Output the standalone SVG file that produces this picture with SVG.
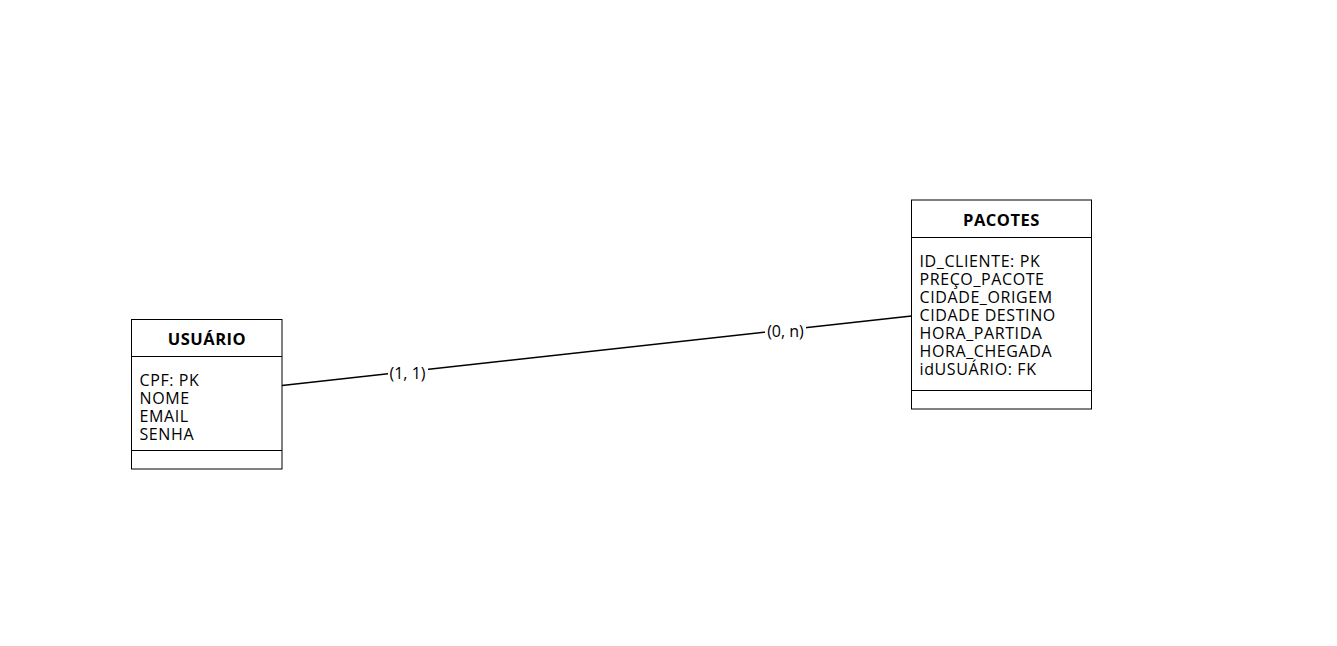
<svg xmlns="http://www.w3.org/2000/svg" width="1337" height="646" viewBox="0 0 1337 646">
<style>
.box{fill:#fff;stroke:#000;stroke-width:1}
.hd{font-family:"Open Sans","Noto Sans",sans-serif;font-size:16.5px;font-weight:bold;text-anchor:middle;fill:#000;letter-spacing:0.5px}
.at{font-family:"Open Sans","Noto Sans",sans-serif;font-size:16px;fill:#000;letter-spacing:0.6px}
.lbl{font-family:"Open Sans","Noto Sans",sans-serif;font-size:16px;fill:#000;text-anchor:middle}
</style>
<rect width="1337" height="646" fill="#fff"/>
<g id="connectors">
<line x1="282" y1="385.5" x2="911.5" y2="316" stroke="#000" stroke-width="1.5"/>
<rect x="388" y="363" width="40" height="20" fill="#fff"/>
<text class="lbl" x="407.5" y="379">(1, 1)</text>
<rect x="765" y="321" width="41" height="20" fill="#fff"/>
<text class="lbl" x="785.5" y="337">(0, n)</text>
</g>
<g id="usuario">
<rect class="box" x="131.5" y="319.5" width="150.5" height="149.5"/>
<line x1="131.5" y1="356.5" x2="282" y2="356.5" stroke="#000"/>
<line x1="131.5" y1="450.5" x2="282" y2="450.5" stroke="#000"/>
<text class="hd" x="207" y="345">USUÁRIO</text>
<text class="at" x="139.5" y="386">CPF: PK</text>
<text class="at" x="139.5" y="404">NOME</text>
<text class="at" x="139.5" y="422">EMAIL</text>
<text class="at" x="139.5" y="440">SENHA</text>
</g>
<g id="pacotes">
<rect class="box" x="911.5" y="200" width="180" height="209"/>
<line x1="911.5" y1="237.5" x2="1091.5" y2="237.5" stroke="#000"/>
<line x1="911.5" y1="390.5" x2="1091.5" y2="390.5" stroke="#000"/>
<text class="hd" x="1001.5" y="226">PACOTES</text>
<text class="at" x="919.5" y="267">ID_CLIENTE: PK</text>
<text class="at" x="919.5" y="285">PREÇO_PACOTE</text>
<text class="at" x="919.5" y="303">CIDADE_ORIGEM</text>
<text class="at" x="919.5" y="321">CIDADE DESTINO</text>
<text class="at" x="919.5" y="339">HORA_PARTIDA</text>
<text class="at" x="919.5" y="357">HORA_CHEGADA</text>
<text class="at" x="919.5" y="375">idUSUÁRIO: FK</text>
</g>
</svg>
